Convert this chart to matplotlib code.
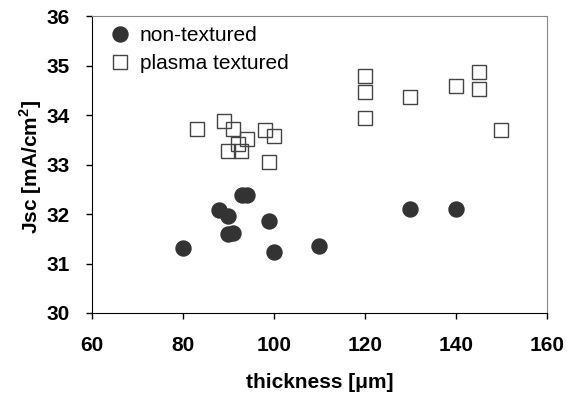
import matplotlib
matplotlib.use('Agg')
import matplotlib.pyplot as plt

plt.rcParams['font.family'] = ['Liberation Sans', 'DejaVu Sans']
plt.rcParams['mathtext.fontset'] = 'custom'
plt.rcParams['mathtext.rm'] = 'Liberation Sans'
plt.rcParams['mathtext.bf'] = 'Liberation Sans:bold'

# non-textured samples
thick_non = [80, 88, 90, 90, 91, 93, 94, 99, 100, 110, 130, 140]
jsc_non = [31.31, 32.09, 31.95, 31.59, 31.61, 32.38, 32.38, 31.86, 31.24, 31.35, 32.1, 32.1]

# plasma textured samples
thick_pl = [83, 89, 91, 94, 92, 90, 92.7, 98, 100, 99, 120, 120, 120, 130, 140, 145, 145, 150]
jsc_pl = [33.71, 33.87, 33.71, 33.51, 33.41, 33.28, 33.28, 33.70, 33.58, 33.06,
          34.79, 34.47, 33.93, 34.36, 34.59, 34.86, 34.53, 33.70]

fig = plt.figure(figsize=(5.75, 3.97), dpi=100)
ax = fig.add_axes([0.16, 0.2116, 0.791, 0.748])

ax.plot(thick_non, jsc_non, 'o', color='#333333', markersize=10.8,
        linestyle='none', label='non-textured')
ax.plot(thick_pl, jsc_pl, 's', markerfacecolor='none', markeredgecolor='#444444',
        markeredgewidth=1.0, markersize=9.6, linestyle='none', label='plasma textured')

ax.set_xlim(60, 160)
ax.set_ylim(30, 36)
ax.set_xticks(range(60, 161, 20))
ax.set_yticks(range(30, 37))

for lab in ax.get_xticklabels() + ax.get_yticklabels():
    lab.set_fontweight('bold')
    lab.set_fontsize(15)

ax.tick_params(axis='both', direction='out', length=4, width=1, color='black')
ax.tick_params(axis='x', pad=12.5)
ax.tick_params(axis='y', pad=12)
ax.spines['left'].set_color('black')
ax.spines['bottom'].set_color('black')
ax.spines['top'].set_color('#888888')
ax.spines['right'].set_color('#888888')

ax.set_xlabel('thickness [μm]', fontsize=15, fontweight='bold')
ax.set_ylabel(r'Jsc [mA/cm$^\mathbf{2}$]', fontsize=15, fontweight='bold')
ax.xaxis.set_label_coords(0.5, -0.2357)
ax.xaxis.label.set_va('center')
ax.yaxis.set_label_coords(-0.134, 0.49)
ax.yaxis.label.set_va('center')

ax.legend(loc='upper left', bbox_to_anchor=(0.0387, 0.9665), frameon=False,
          fontsize=15, handletextpad=0.46, borderpad=0, borderaxespad=0,
          labelspacing=0.43, handlelength=1.0)

fig.savefig('out.png', dpi=100)
